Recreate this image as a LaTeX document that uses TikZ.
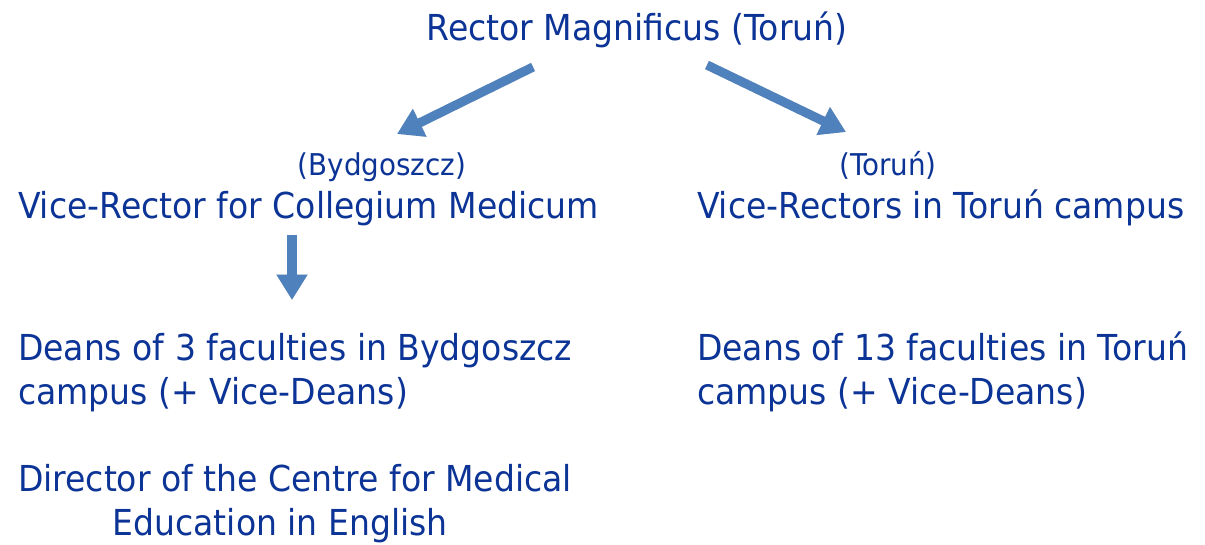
\documentclass[tikz,border=0pt]{standalone}
\usepackage{fontspec}
\setmainfont{DejaVu Sans}[FakeStretch=0.925]
\usepackage{tikz}
\usepackage{xcolor}
\usetikzlibrary{arrows.meta}

\definecolor{textblue}{RGB}{12,52,150}
\definecolor{arrowblue}{RGB}{79,129,189}

\begin{document}
\begin{tikzpicture}[x=0.75pt, y=-0.75pt,
  every node/.style={inner sep=0pt, outer sep=0pt, text=textblue, font=\fontsize{26.8pt}{32.3pt}\selectfont},
  small/.style={font=\fontsize{22.5pt}{26pt}\selectfont},
  bigarrow/.style={draw=arrowblue, line width=6.8pt, -{Triangle[length=19pt, width=22pt]}},
  arrowshadow/.style={draw=black, opacity=0.15, line width=6.8pt, -{Triangle[length=19pt, width=22pt]}, shift={(2,4)}}]

\useasboundingbox (0,0) rectangle (1205,544);

% Top
\node[anchor=base] (rector) at (637,40) {Rector Magnificus (Toruń)};

% Vice-rectors
\node[anchor=base, small] (bydg) at (382,175) {(Bydgoszcz)};
\node[anchor=base west] (vrcm) at (18,218) {Vice-Rector for Collegium Medicum};
\node[anchor=base, small] (tor) at (888,175) {(Toruń)};
\node[anchor=base west] (vrtor) at (697,218) {Vice-Rectors in Toruń campus};

% Deans
\node[anchor=base west, align=left] (deansb) at (18,404) {Deans of 3 faculties in Bydgoszcz\\campus (+ Vice-Deans)};
\node[anchor=base west, align=left] (deanst) at (697,404) {Deans of 13 faculties in Toruń\\campus (+ Vice-Deans)};

% Centre
\node[anchor=base west, align=left] (director) at (18,535) {Director of the Centre for Medical\\\hspace*{71pt}Education in English};

% Arrows
\coordinate (a1) at (533,67);
\coordinate (b1) at (397,134);
\coordinate (a2) at (707,65);
\coordinate (b2) at (846,132);
\coordinate (a3) at (292,235);
\coordinate (b3) at (292,300);

\draw[arrowshadow] (a1) -- (b1);
\draw[arrowshadow] (a2) -- (b2);
\draw[arrowshadow] (a3) -- (b3);
\draw[bigarrow] (a1) -- (b1);
\draw[bigarrow] (a2) -- (b2);
\draw[bigarrow, line width=7.5pt] (a3) -- (b3);

\end{tikzpicture}
\end{document}
